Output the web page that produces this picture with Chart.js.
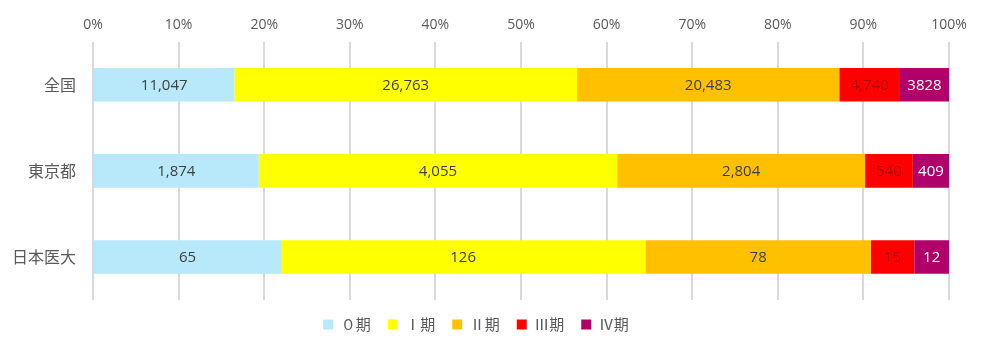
<!DOCTYPE html>
<html>
<head>
<meta charset="utf-8">
<script src="https://cdn.jsdelivr.net/npm/chart.js@4"></script>
<style>
html,body{margin:0;padding:0;background:#fff;}
#wrap{width:981px;height:353px;}
</style>
</head>
<body>
<div id="wrap"><canvas id="c" width="981" height="353"></canvas></div>
<script>
const categories = ["全国", "東京都", "日本医大"];
const seriesNames = ["０期", "Ⅰ期", "Ⅱ期", "Ⅲ期", "Ⅳ期"];
const stage0 = [11047, 1874, 65];
const stage1 = [26763, 4055, 126];
const stage2 = [20483, 2804, 78];
const stage3 = [4740, 540, 15];
const stage4 = [3828, 409, 12];
const valueLabels = [
  ["11,047", "1,874", "65"],
  ["26,763", "4,055", "126"],
  ["20,483", "2,804", "78"],
  ["4,740", "540", "15"],
  ["3828", "409", "12"]
];
const tickLabels = ["0%","10%","20%","30%","40%","50%","60%","70%","80%","90%","100%"];

const colors = ["#B7E9FA", "#FFFF00", "#FFC000", "#FF0000", "#B0006A"];
const labelColors = ["#404040", "#404040", "#404040", "#B00000", "#FFFFFF"];

const raw = [stage0, stage1, stage2, stage3, stage4];
const totals = categories.map((_, i) => raw.reduce((s, a) => s + a[i], 0));
const pct = raw.map(a => a.map((v, i) => v / totals[i] * 100));

const FONT = "'Open Sans', 'Noto Sans CJK JP', sans-serif";
const CJK = "'Noto Sans CJK JP', 'Noto Sans', sans-serif";

const labelPlugin = {
  id: 'segLabels',
  afterDatasetsDraw(chart) {
    const ctx = chart.ctx;
    ctx.save();
    ctx.font = "15px " + FONT;
    ctx.textAlign = "center";
    ctx.textBaseline = "middle";
    chart.data.datasets.forEach((ds, di) => {
      const meta = chart.getDatasetMeta(di);
      meta.data.forEach((el, i) => {
        const cx = (el.x + el.base) / 2;
        ctx.fillStyle = labelColors[di];
        ctx.fillText(valueLabels[di][i], cx, el.y + 1);
      });
    });
    ctx.restore();
  }
};

new Chart(document.getElementById('c'), {
  type: 'bar',
  data: {
    labels: categories,
    datasets: seriesNames.map((n, i) => ({
      label: n,
      data: pct[i],
      backgroundColor: colors[i],
      borderWidth: 0,
      barPercentage: 0.39,
      categoryPercentage: 1.0
    }))
  },
  options: {
    indexAxis: 'y',
    responsive: false,
    animation: false,
    layout: { padding: { top: 9, left: 3, right: 32, bottom: 11 } },
    plugins: {
      tooltip: { enabled: false },
      legend: {
        position: 'bottom',
        labels: {
          boxWidth: 10, boxHeight: 10, padding: 17,
          color: '#595959',
          font: { size: 15, family: CJK }
        }
      }
    },
    scales: {
      x: {
        position: 'top',
        stacked: true,
        min: 0, max: 100,
        ticks: {
          stepSize: 10,
          color: '#595959',
          font: { size: 14, family: FONT },
          padding: 8,
          callback: (v, i) => tickLabels[i]
        },
        grid: { color: '#D9D9D9', lineWidth: 2, drawTicks: false },
        border: { display: false }
      },
      y: {
        stacked: true,
        ticks: {
          color: '#595959',
          font: { size: 16, family: CJK },
          padding: 9
        },
        grid: { display: false },
        border: { display: false }
      }
    }
  },
  plugins: [labelPlugin]
});
</script>
</body>
</html>
